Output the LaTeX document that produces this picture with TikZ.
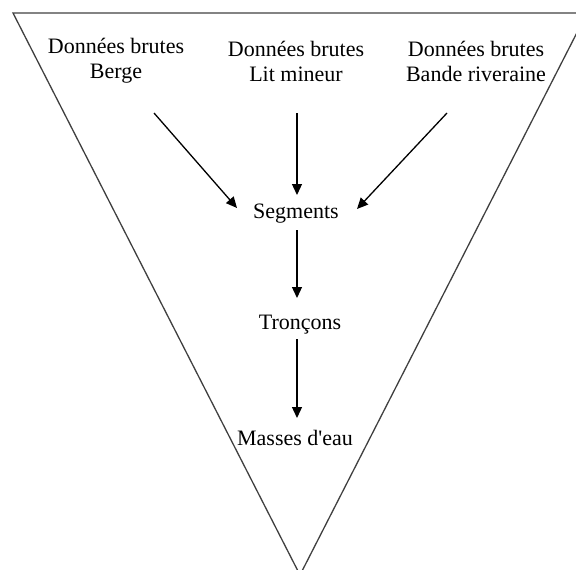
\documentclass[tikz,border=0pt]{standalone}
\usepackage{fontspec}
\setmainfont{Liberation Serif}
\usetikzlibrary{arrows.meta}
\begin{document}
\begin{tikzpicture}[x=1pt,y=-1pt,
  lbl/.style={font=\fontsize{22}{25}\selectfont, inner sep=0pt, align=center},
  flow/.style={-{Triangle[length=11pt,width=10pt]}, line width=1.3pt, black},
  funnel/.style={line width=1.3pt, draw=black!75, line join=miter}]
\useasboundingbox (0,0) rectangle (576,570);
% funnel outline
\draw[funnel] (13,13) -- (587,13) -- (300,575) -- cycle;

% raw data sources
\node[lbl] (berge) at (116,61) {Données brutes\\Berge};
\node[lbl] (lit)   at (296,61) {Données brutes\\Lit mineur};
\node[lbl] (bande) at (476,61) {Données brutes\\Bande riveraine};

% aggregation levels
\node[lbl, anchor=base] (seg)    at (296,218) {Segments};
\node[lbl, anchor=base] (tron)   at (300,329) {Tronçons};
\node[lbl, anchor=base] (masses) at (295,445) {Masses d\textquotesingle eau};

% arrow end points
\coordinate (berge-out) at (154,113);
\coordinate (lit-out)   at (297,113);
\coordinate (bande-out) at (447,113);
\coordinate (seg-in-l)  at (237,208);
\coordinate (seg-in-m)  at (297,195);
\coordinate (seg-in-r)  at (357,209);
\coordinate (seg-out)   at (297,230);
\coordinate (tron-in)   at (297,298);
\coordinate (tron-out)  at (297,339);
\coordinate (masses-in) at (297,418);

\draw[flow] (berge-out) -- (seg-in-l);
\draw[flow] (lit-out) -- (seg-in-m);
\draw[flow] (bande-out) -- (seg-in-r);
\draw[flow] (seg-out) -- (tron-in);
\draw[flow] (tron-out) -- (masses-in);
\end{tikzpicture}
\end{document}
